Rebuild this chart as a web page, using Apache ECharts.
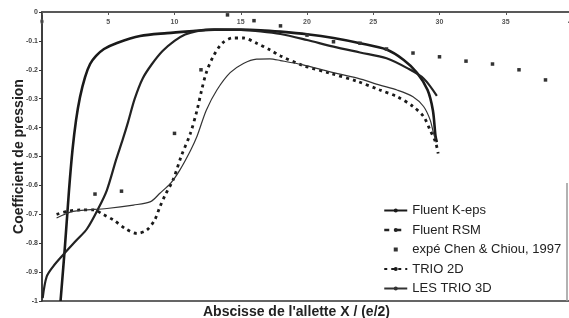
<!DOCTYPE html>
<html>
<head>
<meta charset="utf-8">
<script src="https://cdn.jsdelivr.net/npm/echarts@6/dist/echarts.min.js"></script>
<style>
  html, body { margin: 0; padding: 0; background: #fff; }
  #chart { width: 569px; height: 318px; }
</style>
</head>
<body>
<div id="chart"></div>
<script>
// x ticks 0..40 (top), y ticks 0..-1
const xTicks = [0, 5, 10, 15, 20, 25, 30, 35, 40];
const yTicks = [0, -0.1, -0.2, -0.3, -0.4, -0.5, -0.6, -0.7, -0.8, -0.9, -1];

// [X/(e/2), Cp] pairs
const kepsPts = [[1.40,-1.0],[1.74,-0.806],[2.04,-0.616],[2.30,-0.478],[2.57,-0.374],[2.87,-0.294],
  [3.25,-0.225],[3.63,-0.18],[4.08,-0.152],[4.68,-0.128],[5.66,-0.107],[7.4,-0.083],[9.44,-0.073],
  [11.4,-0.066],[13,-0.061],[15,-0.061],[16.5,-0.063],[18,-0.068],[20,-0.077],[22,-0.09],[24,-0.108],
  [26,-0.13],[27.3,-0.166],[28.3,-0.21],[29.1,-0.27],[29.5,-0.34],[29.7,-0.43],[29.8,-0.45]];
const rsmPts = [[0.05,-0.99],[0.35,-0.916],[0.85,-0.88],[1.6,-0.84],[2.6,-0.79],[3.4,-0.75],
  [4.25,-0.68],[4.9,-0.616],[5.6,-0.51],[6.1,-0.44],[6.5,-0.38],[7.0,-0.30],[7.6,-0.23],[8.3,-0.18],
  [9.1,-0.135],[10.0,-0.1],[10.8,-0.078],[11.7,-0.066],[13,-0.061],[15,-0.062],[16.5,-0.067],
  [18,-0.076],[20,-0.097],[22,-0.12],[24,-0.14],[26,-0.16],[27.6,-0.195],[28.8,-0.23],[29.8,-0.29]];
const expePts = [[4,-0.63],[6,-0.62],[10,-0.42],[12,-0.20],[14,-0.01],[16,-0.03],[18,-0.048],
  [20,-0.08],[22,-0.103],[24,-0.108],[26,-0.128],[28,-0.142],[30,-0.155],[32,-0.17],[34,-0.18],
  [36,-0.20],[38,-0.235]];
const trio2dPts = [[1.1,-0.70],[1.9,-0.69],[2.9,-0.685],[3.9,-0.685],[4.6,-0.70],[5.4,-0.72],
  [6.3,-0.75],[7.15,-0.766],[7.9,-0.755],[8.5,-0.72],[8.9,-0.674],[9.3,-0.633],[9.9,-0.58],
  [10.5,-0.50],[11.2,-0.42],[11.7,-0.34],[12.05,-0.27],[12.4,-0.21],[12.9,-0.156],[13.6,-0.108],
  [14.4,-0.09],[15.2,-0.09],[16.2,-0.108],[17.2,-0.131],[18.0,-0.152],[19.7,-0.185],[21.75,-0.212],
  [23.8,-0.24],[25.5,-0.27],[26.8,-0.293],[28.0,-0.327],[28.8,-0.362],[29.3,-0.41],[29.7,-0.45],[29.9,-0.49]];
const les3dPts = [[1.1,-0.713],[2.35,-0.69],[4.9,-0.68],[6.9,-0.668],[8.2,-0.656],[8.9,-0.627],
  [9.7,-0.593],[10.4,-0.547],[11.2,-0.48],[11.7,-0.43],[12.4,-0.34],[13.2,-0.27],[14.2,-0.21],
  [15.2,-0.178],[16.2,-0.163],[17.2,-0.162],[18,-0.168],[19.7,-0.183],[21.75,-0.207],[23.8,-0.229],
  [25.5,-0.253],[26.8,-0.27],[28,-0.293],[28.8,-0.327],[29.3,-0.374],[29.55,-0.42],[29.7,-0.44]];

const names = ['Fluent K-eps', 'Fluent RSM', 'expé Chen & Chiou, 1997', 'TRIO 2D', 'LES TRIO 3D'];

let chart = echarts.init(document.getElementById('chart'));
chart.setOption({
  animation: false,
  backgroundColor: '#fff',
  textStyle: { fontFamily: 'Liberation Sans, Arial, sans-serif' },
  title: {
    text: "Abscisse de l'allette X / (e/2)",
    left: 198, top: 300,
    textStyle: { fontSize: 14, fontWeight: 'bold', color: '#222' }
  },
  grid: {
    left: 42, top: 12, width: 530, height: 289,
    containLabel: false, outerBoundsMode: 'none',
    show: true, borderColor: '#333', borderWidth: 1.5, backgroundColor: 'transparent'
  },
  legend: {
    orient: 'vertical', left: 378, top: 199,
    itemWidth: 23, itemHeight: 5, itemGap: 6.5,
    textStyle: { fontSize: 13, color: '#222' },
    data: [
      { name: names[0] },
      { name: names[1], lineStyle: { type: [5, 7], width: 2.5 } },
      { name: names[2] },
      { name: names[3] },
      { name: names[4] }
    ]
  },
  graphic: [{
    type: 'line', shape: { x1: 567, y1: 183, x2: 567, y2: 301 },
    style: { stroke: '#999', lineWidth: 1.5 }
  }],
  xAxis: {
    type: 'value', position: 'top', min: 0, max: 40, interval: 5,
    axisLine: { lineStyle: { color: '#555', width: 1.5 } },
    axisTick: { inside: true, length: 3, lineStyle: { color: '#555' } },
    axisLabel: { inside: true, margin: 7, fontSize: 7, fontWeight: 'bold', color: '#555',
      formatter: v => xTicks.includes(v) ? String(v) : '' },
    splitLine: { show: false }
  },
  yAxis: {
    type: 'value', min: -1, max: 0, interval: 0.1,
    name: 'Coefficient de pression', nameLocation: 'middle', nameGap: 16, nameRotate: 90,
    nameMoveOverlap: false,
    nameTextStyle: { fontSize: 14, fontWeight: 'bold', color: '#222' },
    axisLine: { lineStyle: { color: '#333', width: 1.5 } },
    axisTick: { length: 3, lineStyle: { color: '#333' } },
    axisLabel: { fontSize: 7, fontWeight: 'bold', color: '#444', margin: 4,
      formatter: v => {
        const t = yTicks.find(k => Math.abs(k - v) < 1e-6);
        if (t === undefined) return '';
        return t === 0 ? '0' : t === -1 ? '-1' : t.toFixed(1);
      } },
    splitLine: { show: false }
  },
  series: [
    { name: names[0], type: 'line', data: kepsPts, smooth: 0.3, symbol: 'none',
      itemStyle: { color: '#1a1a1a' }, lineStyle: { color: '#1a1a1a', width: 2.6 } },
    { name: names[1], type: 'line', data: rsmPts, smooth: 0.3, symbol: 'none',
      itemStyle: { color: '#222' }, lineStyle: { color: '#222', width: 2.2 } },
    { name: names[2], type: 'line', data: expePts, symbol: 'rect', symbolSize: 3.5,
      itemStyle: { color: '#333' }, lineStyle: { width: 0, opacity: 0 } },
    { name: names[3], type: 'line', data: trio2dPts, smooth: 0.3, symbol: 'none',
      itemStyle: { color: '#1a1a1a' }, lineStyle: { color: '#1a1a1a', width: 2.8, type: [3, 4] } },
    { name: names[4], type: 'line', data: les3dPts, smooth: 0.3, symbol: 'none',
      itemStyle: { color: '#333' }, lineStyle: { color: '#333', width: 1.2 } }
  ]
});
</script>
</body>
</html>
